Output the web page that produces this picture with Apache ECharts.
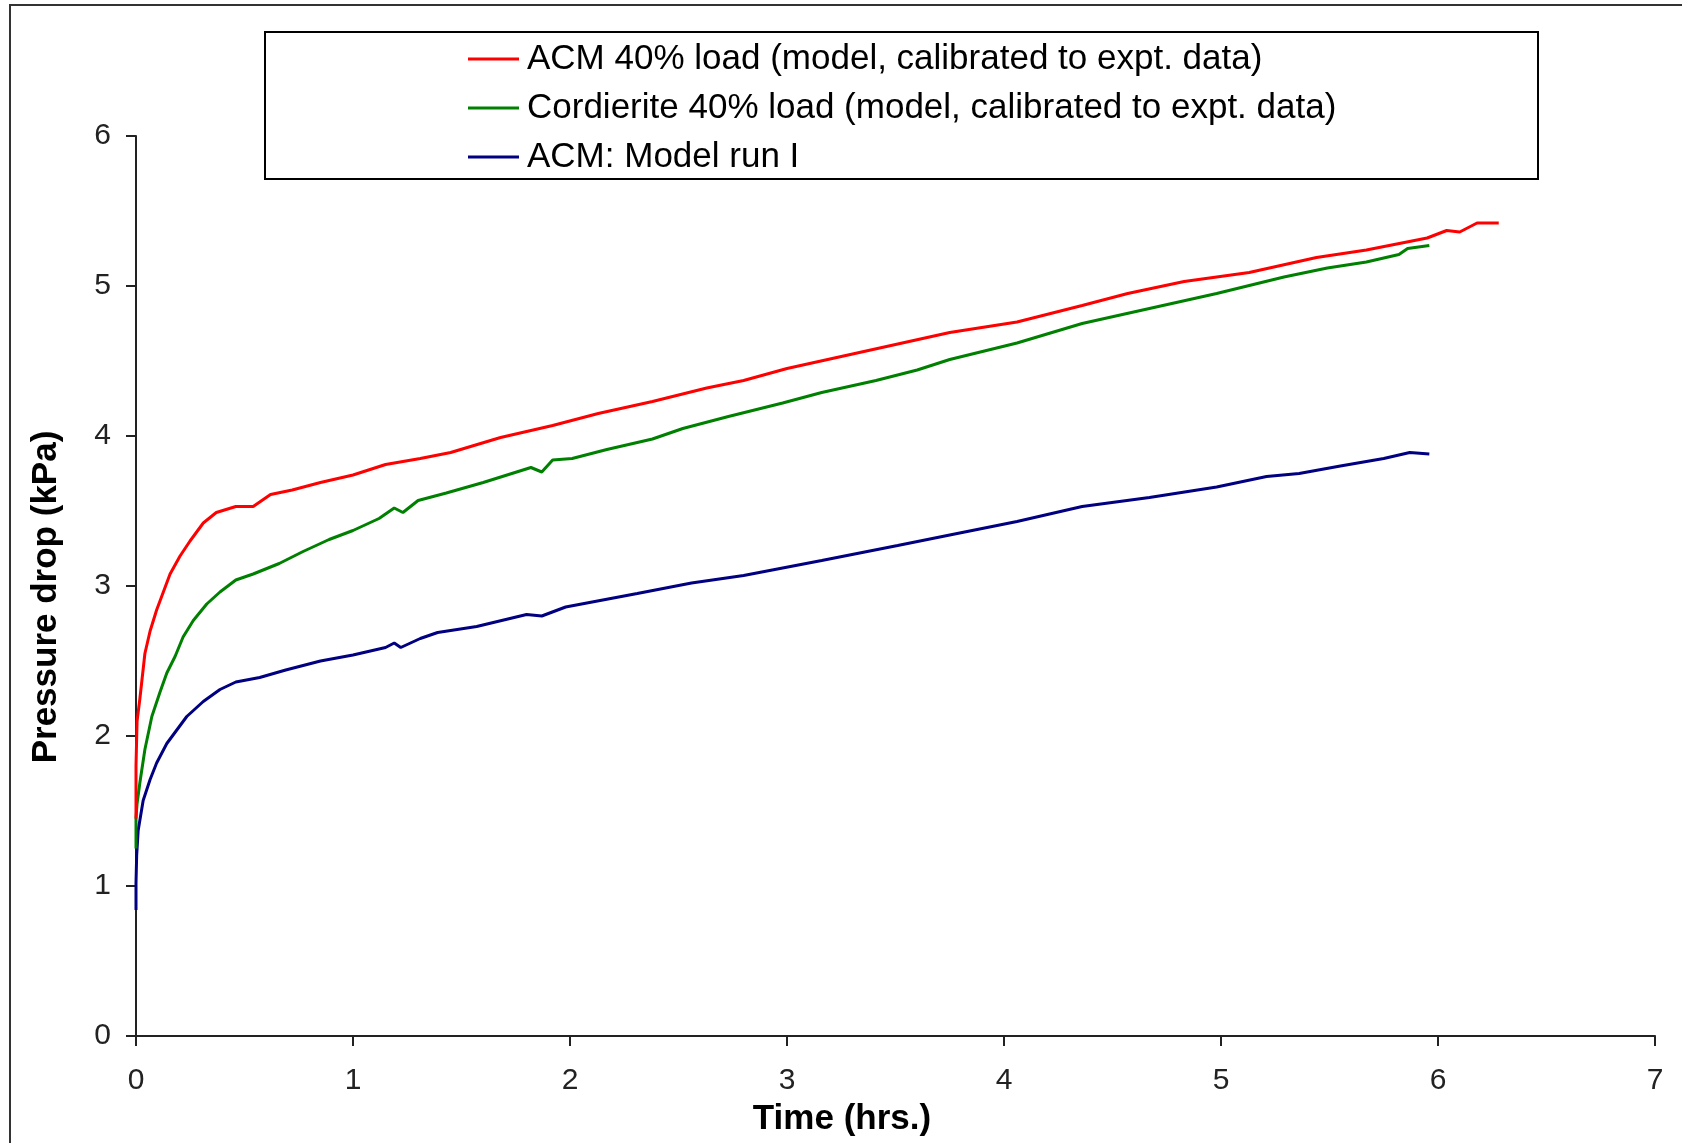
<!DOCTYPE html>
<html>
<head>
<meta charset="utf-8">
<script src="https://cdn.jsdelivr.net/npm/echarts@6/dist/echarts.min.js"></script>
<style>
  html, body { margin: 0; padding: 0; background: #fff; }
  #chart { width: 1682px; height: 1143px; }
</style>
</head>
<body>
<div id="chart"></div>
<script>
// Series names
const seriesNames = [
  'ACM 40% load (model, calibrated to expt. data)',
  'Cordierite 40% load (model, calibrated to expt. data)',
  'ACM: Model run I'
];

// Axis titles
const xTitle = 'Time (hrs.)';
const yTitle = 'Pressure drop (kPa)';

// ACM 40% load — time (hrs.) and pressure drop (kPa)
const acmTime = [0, 0, 0.005, 0.018, 0.041, 0.065, 0.095, 0.126, 0.157, 0.203, 0.249, 0.31, 0.37, 0.46, 0.54, 0.62, 0.72, 0.85, 1.0, 1.15, 1.31, 1.45, 1.68, 1.92, 2.13, 2.38, 2.63, 2.80, 3.0, 3.25, 3.5, 3.75, 4.06, 4.36, 4.57, 4.83, 5.13, 5.44, 5.67, 5.95, 6.04, 6.10, 6.18, 6.28];
const acmValues = [1.45, 1.8, 2.1, 2.25, 2.55, 2.7, 2.84, 2.96, 3.08, 3.2, 3.3, 3.42, 3.49, 3.53, 3.53, 3.61, 3.64, 3.69, 3.74, 3.81, 3.85, 3.89, 3.99, 4.07, 4.15, 4.23, 4.32, 4.37, 4.45, 4.53, 4.61, 4.69, 4.76, 4.87, 4.95, 5.03, 5.09, 5.19, 5.24, 5.32, 5.37, 5.36, 5.42, 5.42];

// Cordierite 40% load
const corTime = [0, 0, 0.005, 0.018, 0.041, 0.073, 0.11, 0.142, 0.18, 0.217, 0.264, 0.326, 0.387, 0.46, 0.54, 0.66, 0.77, 0.89, 1.0, 1.12, 1.19, 1.23, 1.30, 1.43, 1.60, 1.82, 1.87, 1.92, 2.01, 2.17, 2.38, 2.52, 2.73, 2.98, 3.16, 3.41, 3.6, 3.75, 4.06, 4.36, 4.67, 4.98, 5.29, 5.49, 5.67, 5.82, 5.86, 5.96];
const corValues = [1.25, 1.45, 1.55, 1.69, 1.91, 2.13, 2.29, 2.42, 2.53, 2.66, 2.77, 2.88, 2.96, 3.04, 3.08, 3.15, 3.23, 3.31, 3.37, 3.45, 3.52, 3.49, 3.57, 3.62, 3.69, 3.79, 3.76, 3.84, 3.85, 3.91, 3.98, 4.05, 4.13, 4.22, 4.29, 4.37, 4.44, 4.51, 4.62, 4.75, 4.85, 4.95, 5.06, 5.12, 5.16, 5.21, 5.25, 5.27];

// ACM: Model run I
const runTime = [0, 0, 0.003, 0.01, 0.033, 0.065, 0.095, 0.142, 0.188, 0.234, 0.31, 0.387, 0.46, 0.57, 0.69, 0.85, 1.0, 1.15, 1.19, 1.22, 1.31, 1.39, 1.57, 1.80, 1.87, 1.98, 2.31, 2.56, 2.80, 3.16, 3.51, 3.75, 4.06, 4.36, 4.67, 4.98, 5.21, 5.36, 5.55, 5.75, 5.87, 5.96];
const runValues = [0.84, 1.02, 1.2, 1.37, 1.57, 1.71, 1.82, 1.95, 2.04, 2.13, 2.23, 2.31, 2.36, 2.39, 2.44, 2.50, 2.54, 2.59, 2.62, 2.59, 2.65, 2.69, 2.73, 2.81, 2.80, 2.86, 2.95, 3.02, 3.07, 3.17, 3.27, 3.34, 3.43, 3.53, 3.59, 3.66, 3.73, 3.75, 3.80, 3.85, 3.89, 3.88];

const seriesColors = ['#ff0000', '#008000', '#000080'];

function pairs(xs, ys) { return xs.map((x, i) => [x, ys[i]]); }

const FONT = "'Liberation Sans', Arial, sans-serif";

const chart = echarts.init(document.getElementById('chart'), null, { renderer: 'canvas' });
chart.setOption({
  animation: false,
  backgroundColor: '#ffffff',
  textStyle: { fontFamily: FONT },
  grid: { left: 136, right: 27, top: 136, bottom: 107, containLabel: false },
  legend: {
    orient: 'vertical',
    left: 468,
    top: 39,
    padding: 0,
    itemGap: 9,
    itemWidth: 51,
    itemHeight: 3,
    icon: 'rect',
    data: seriesNames,
    textStyle: { fontSize: 35, fontFamily: FONT, color: '#000', lineHeight: 40, padding: [0, 0, 0, 3] }
  },
  graphic: [
    { type: 'rect', silent: true, shape: { x: 10, y: 5, width: 1700, height: 1200 },
      style: { fill: 'none', stroke: '#333', lineWidth: 2 } },
    { type: 'rect', silent: true, shape: { x: 265, y: 32, width: 1273, height: 147 },
      style: { fill: 'none', stroke: '#000', lineWidth: 2 } },
    { type: 'text', silent: true, x: 842, y: 1119,
      style: { text: xTitle, font: "bold 35px 'Liberation Sans', Arial, sans-serif", fill: '#000',
               align: 'center', verticalAlign: 'middle' } },
    { type: 'text', silent: true, x: 46, y: 597, rotation: Math.PI / 2,
      style: { text: yTitle, font: "bold 35px 'Liberation Sans', Arial, sans-serif", fill: '#000',
               align: 'center', verticalAlign: 'middle' } }
  ],
  xAxis: {
    type: 'value',
    min: 0, max: 7, interval: 1,
    axisLine: { show: true, onZero: false, lineStyle: { color: '#222', width: 2 } },
    axisTick: { show: true, inside: false, length: 10, lineStyle: { color: '#222', width: 2 } },
    axisLabel: { fontSize: 30, color: '#222', margin: 30, fontFamily: FONT },
    splitLine: { show: false }
  },
  yAxis: {
    type: 'value',
    min: 0, max: 6, interval: 1,
    axisLine: { show: true, lineStyle: { color: '#222', width: 2 } },
    axisTick: { show: true, inside: false, length: 10, lineStyle: { color: '#222', width: 2 } },
    axisLabel: { fontSize: 30, color: '#222', margin: 25, fontFamily: FONT },
    splitLine: { show: false }
  },
  series: [
    { name: seriesNames[0], type: 'line', data: pairs(acmTime, acmValues), showSymbol: false, symbol: 'none',
      lineStyle: { color: seriesColors[0], width: 3 }, itemStyle: { color: seriesColors[0] }, z: 3 },
    { name: seriesNames[1], type: 'line', data: pairs(corTime, corValues), showSymbol: false, symbol: 'none',
      lineStyle: { color: seriesColors[1], width: 3 }, itemStyle: { color: seriesColors[1] }, z: 2 },
    { name: seriesNames[2], type: 'line', data: pairs(runTime, runValues), showSymbol: false, symbol: 'none',
      lineStyle: { color: seriesColors[2], width: 3 }, itemStyle: { color: seriesColors[2] }, z: 1 }
  ]
});
</script>
</body>
</html>
